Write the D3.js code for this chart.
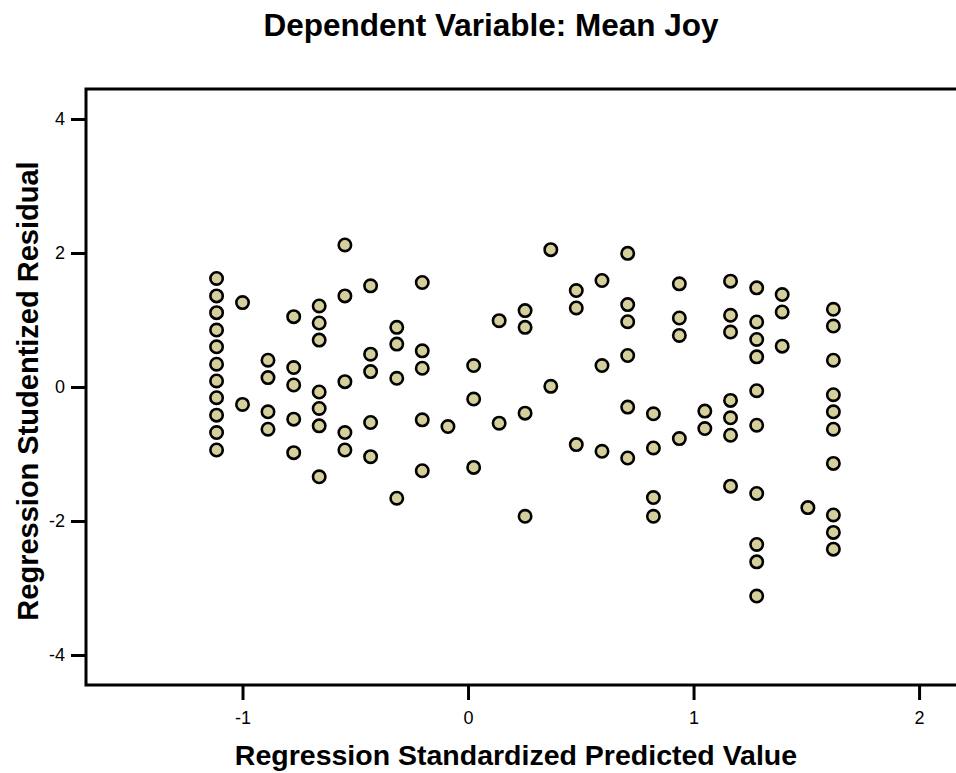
<!DOCTYPE html>
<html>
<head>
<meta charset="utf-8">
<script src="https://cdn.jsdelivr.net/npm/d3@7"></script>
<style>
  html, body { margin: 0; padding: 0; background: #fff; }
  svg { display: block; }
  text { font-family: "Liberation Sans", Arial, sans-serif; fill: #000; }
</style>
</head>
<body>
<svg id="chart" width="956" height="773"></svg>
<script>
// ---- data ----
const chartTitle = "Dependent Variable: Mean Joy";
const xTitle = "Regression Standardized Predicted Value";
const yTitle = "Regression Studentized Residual";
const xTickValues = [-1, 0, 1, 2];
const yTickValues = [-4, -2, 0, 2, 4];

// predicted value of each column of points
const predicted = [-1.115, -1.0, -0.887, -0.773, -0.66, -0.546, -0.432, -0.316, -0.203, -0.089,
  0.025, 0.138, 0.253, 0.367, 0.48, 0.594, 0.708, 0.822, 0.937, 1.05, 1.164, 1.28, 1.393, 1.507, 1.62];
// studentized residuals in each column
const residuals = [
  [1.62, 1.36, 1.11, 0.85, 0.60, 0.34, 0.09, -0.16, -0.42, -0.68, -0.94],
  [1.26, -0.26],
  [0.40, 0.14, -0.37, -0.63],
  [1.05, 0.29, 0.03, -0.48, -0.98],
  [1.21, 0.955, 0.70, -0.075, -0.32, -0.58, -1.34],
  [2.12, 1.36, 0.08, -0.68, -0.94],
  [1.51, 0.49, 0.23, -0.53, -1.04],
  [0.89, 0.64, 0.13, -1.66],
  [1.56, 0.54, 0.28, -0.49, -1.25],
  [-0.59],
  [0.32, -0.18, -1.20],
  [0.99, -0.54],
  [1.14, 0.89, -0.39, -1.93],
  [2.05, 0.01],
  [1.44, 1.18, -0.86],
  [1.59, 0.32, -0.96],
  [1.995, 1.23, 0.975, 0.47, -0.30, -1.06],
  [-0.40, -0.91, -1.65, -1.93],
  [1.54, 1.03, 0.77, -0.77],
  [-0.36, -0.62],
  [1.58, 1.07, 0.82, -0.20, -0.46, -0.72, -1.48],
  [1.48, 0.97, 0.71, 0.45, -0.055, -0.57, -1.59, -2.35, -2.61, -3.12],
  [1.38, 1.12, 0.61],
  [-1.80],
  [1.16, 0.91, 0.40, -0.115, -0.37, -0.63, -1.14, -1.91, -2.17, -2.42]
];

const points = [];
predicted.forEach((p, i) => residuals[i].forEach(r => points.push({ x: p, y: r })));

// ---- layout ----
const svg = d3.select("#chart");
const plotLeft = 86, plotTop = 89, plotBottom = 685, plotRight = 975;

const x = d3.scaleLinear().domain([-1.694, 2.248]).range([plotLeft, plotRight]);
const y = d3.scaleLinear().domain([-4.448, 4.448]).range([plotBottom, plotTop]);

// frame (top, left and bottom lines)
svg.append("path")
  .attr("d", `M${plotRight},${plotTop}H${plotLeft}V${plotBottom}H${plotRight}`)
  .attr("fill", "none").attr("stroke", "#000").attr("stroke-width", 3);

// axes via d3
const xAxis = d3.axisBottom(x).tickValues(xTickValues).tickSize(15).tickPadding(11);
const yAxis = d3.axisLeft(y).tickValues(yTickValues).tickSize(15).tickPadding(6);

const gx = svg.append("g").attr("transform", `translate(0,${plotBottom})`).call(xAxis);
const gy = svg.append("g").attr("transform", `translate(${plotLeft},0)`).call(yAxis);
[gx, gy].forEach(g => {
  g.select(".domain").remove();
  g.selectAll(".tick line").attr("stroke", "#000").attr("stroke-width", 3);
  g.selectAll(".tick text").attr("font-size", 18).attr("font-family", "'Liberation Sans', Arial, sans-serif").attr("fill", "#000")
    .text(d => d < 0 ? "-" + Math.abs(d) : String(d));
});

// points
svg.append("g").selectAll("circle").data(points).join("circle")
  .attr("cx", d => x(d.x)).attr("cy", d => y(d.y)).attr("r", 6.2)
  .attr("fill", "#d5cf9b").attr("stroke", "#000").attr("stroke-width", 2.6);

// titles
svg.append("text").attr("x", 491).attr("y", 36).attr("text-anchor", "middle")
  .attr("font-size", 31.5).attr("font-weight", "bold").text(chartTitle);
svg.append("text").attr("x", 516).attr("y", 765).attr("text-anchor", "middle")
  .attr("font-size", 28.5).attr("font-weight", "bold").text(xTitle);
svg.append("text").attr("transform", "translate(38,391) rotate(-90)").attr("text-anchor", "middle")
  .attr("font-size", 29).attr("font-weight", "bold").text(yTitle);
</script>
</body>
</html>
